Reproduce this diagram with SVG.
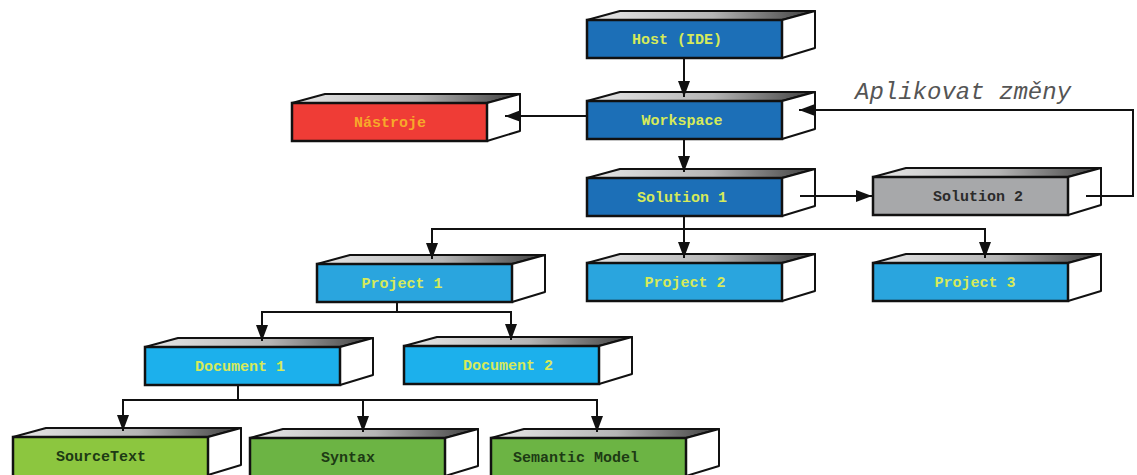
<svg xmlns="http://www.w3.org/2000/svg" width="1137" height="475" viewBox="0 0 1137 475">
<style>
.top{stroke:#111;stroke-width:2;stroke-linejoin:round;fill:url(#topg)}
.side{fill:#fff;stroke:#111;stroke-width:2;stroke-linejoin:round}
.front{stroke:#111;stroke-width:2.5}
.lbl{font-family:"Liberation Mono","Courier New",monospace;font-weight:bold;font-size:15px;text-anchor:middle}
.dk{fill:#1c6fb7}.pj{fill:#2aa5de}.dc{fill:#1cb0ec}.rd{fill:#ef3c36}.gy{fill:#a7a8aa}.lg{fill:#8cc63f}.gr{fill:#6cb444}
.ty{fill:#d6ea5a}.to{fill:#f7a92a}.tg{fill:#1d3a14}.tk{fill:#2b2b2b}
.conn{fill:none;stroke:#111;stroke-width:2}
</style>
<defs>
<linearGradient id="topg" x1="0" y1="0" x2="1" y2="0">
<stop offset="0" stop-color="#e8e8e8"/>
<stop offset="0.55" stop-color="#b5b5b5"/>
<stop offset="1" stop-color="#3d3d3d"/>
</linearGradient>
<marker id="arr" markerUnits="userSpaceOnUse" markerWidth="16" markerHeight="12" refX="16" refY="6" orient="auto">
<path d="M0,0 L16,6 L0,12 z" fill="#111"/>
</marker>
<g id="box">
<polygon class="top" points="0,0 33,-9 228,-9 195,0"/>
<polygon class="side" points="195,0 228,-9 228,28 195,38"/>
</g>
</defs>

<text x="855" y="99" font-family="'Liberation Mono','Courier New',monospace" font-style="italic" font-size="24" fill="#555">Aplikovat změny</text>

<g id="host" transform="translate(587,20)"><use href="#box"/><rect class="front dk" width="195" height="38"/><text class="lbl ty" x="90" y="24">Host (IDE)</text></g>
<g id="workspace" transform="translate(587,101)"><use href="#box"/><rect class="front dk" width="195" height="38"/><text class="lbl ty" x="95" y="24">Workspace</text></g>
<g id="nastroje" transform="translate(292,103)"><use href="#box"/><rect class="front rd" width="195" height="38"/><text class="lbl to" x="98" y="24">Nástroje</text></g>
<g id="solution1" transform="translate(587,178)"><use href="#box"/><rect class="front dk" width="195" height="38"/><text class="lbl ty" x="95" y="24">Solution 1</text></g>
<g id="solution2" transform="translate(873,177)"><use href="#box"/><rect class="front gy" width="195" height="38"/><text class="lbl tk" x="105" y="24">Solution 2</text></g>
<g id="project1" transform="translate(317,264)"><use href="#box"/><rect class="front pj" width="195" height="38"/><text class="lbl ty" x="85" y="24">Project 1</text></g>
<g id="project2" transform="translate(587,263)"><use href="#box"/><rect class="front pj" width="195" height="38"/><text class="lbl ty" x="98" y="24">Project 2</text></g>
<g id="project3" transform="translate(873,263)"><use href="#box"/><rect class="front pj" width="195" height="38"/><text class="lbl ty" x="102" y="24">Project 3</text></g>
<g id="document1" transform="translate(145,347)"><use href="#box"/><rect class="front dc" width="195" height="38"/><text class="lbl ty" x="95" y="24">Document 1</text></g>
<g id="document2" transform="translate(404,346)"><use href="#box"/><rect class="front dc" width="195" height="38"/><text class="lbl ty" x="104" y="24">Document 2</text></g>
<g id="sourcetext" transform="translate(13,437)"><use href="#box"/><rect class="front lg" width="195" height="40"/><text class="lbl tg" x="88" y="24">SourceText</text></g>
<g id="syntax" transform="translate(250,438)"><use href="#box"/><rect class="front gr" width="195" height="40"/><text class="lbl tg" x="98" y="24">Syntax</text></g>
<g id="semantic" transform="translate(491,438)"><use href="#box"/><rect class="front gr" width="195" height="40"/><text class="lbl tg" x="85" y="24">Semantic Model</text></g>

<g id="connectors">
<path class="conn" d="M684,59 V97" marker-end="url(#arr)"/>
<path class="conn" d="M684,140 V172" marker-end="url(#arr)"/>
<path class="conn" d="M586,116 H505" marker-end="url(#arr)"/>
<path class="conn" d="M800,196 H872" marker-end="url(#arr)"/>
<path class="conn" d="M1086,196 H1133 V110 H799" marker-end="url(#arr)"/>
<path class="conn" d="M684,217 V258" marker-end="url(#arr)"/>
<path class="conn" d="M684,229 H432 V259" marker-end="url(#arr)"/>
<path class="conn" d="M684,229 H985 V258" marker-end="url(#arr)"/>
<path class="conn" d="M397,303 V312 H262 V341" marker-end="url(#arr)"/>
<path class="conn" d="M397,312 H511 V340" marker-end="url(#arr)"/>
<path class="conn" d="M238,386 V400 H123 V431" marker-end="url(#arr)"/>
<path class="conn" d="M238,400 H363 V432" marker-end="url(#arr)"/>
<path class="conn" d="M238,400 H597 V432" marker-end="url(#arr)"/>
</g>
</svg>
